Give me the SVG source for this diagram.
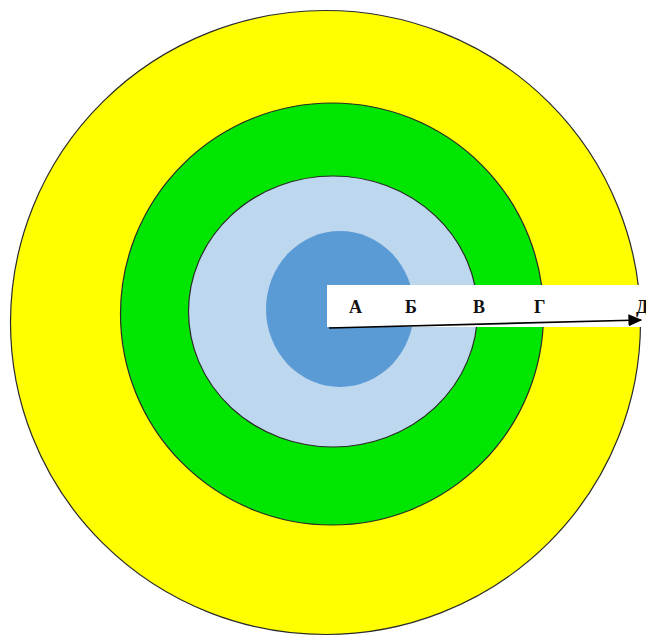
<svg xmlns="http://www.w3.org/2000/svg" width="646" height="641" viewBox="0 0 646 641">
<defs>
<style>
.ring{stroke:#2a2a2a;stroke-width:1.2}
.lbl{font-family:"Liberation Serif","DejaVu Serif",serif;font-weight:bold;font-size:18px;fill:#111}
</style>
<marker id="ah" viewBox="0 0 10 10" refX="9" refY="5" markerWidth="14" markerHeight="12" orient="auto" markerUnits="userSpaceOnUse" preserveAspectRatio="none">
<path d="M0,0 L10,5 L0,10 Z" fill="#000"/>
</marker>
</defs>
<rect width="646" height="641" fill="#ffffff"/>
<g id="ring-yellow"><ellipse class="ring" cx="325.5" cy="322.5" rx="315" ry="312" fill="#ffff00"/></g>
<g id="ring-green"><ellipse class="ring" cx="332" cy="314" rx="211.5" ry="211" fill="#00e600"/></g>
<g id="ring-lightblue"><ellipse class="ring" cx="333" cy="311.5" rx="144.5" ry="135.5" fill="#bdd7ee"/></g>
<g id="core"><ellipse cx="340" cy="309" rx="74" ry="78" fill="#5b9bd5"/></g>
<g id="label-band">
<rect x="327" y="285" width="319" height="42" fill="#ffffff"/>
<text class="lbl" x="349" y="313">А</text>
<text class="lbl" x="405" y="313">Б</text>
<text class="lbl" x="473" y="313">В</text>
<text class="lbl" x="534" y="313">Г</text>
<text class="lbl" x="636" y="313">Д</text>
</g>
<g id="connectors">
<line x1="329" y1="328" x2="641" y2="320" stroke="#000" stroke-width="1.6" marker-end="url(#ah)"/>
</g>
</svg>
